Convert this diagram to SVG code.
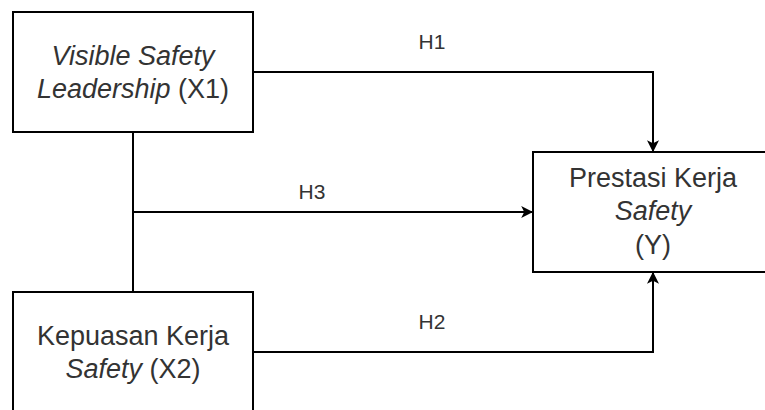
<svg xmlns="http://www.w3.org/2000/svg" width="765" height="410" viewBox="0 0 765 410">
<defs>
<style>
.box{fill:#ffffff;stroke:#000000;stroke-width:2}
.t{font-family:"Liberation Sans",Arial,Helvetica,sans-serif;font-size:27px;fill:#333333;text-anchor:middle}
.lbl{font-family:"Liberation Sans",Arial,Helvetica,sans-serif;font-size:21px;fill:#333333;text-anchor:middle}
.c{fill:none;stroke:#000000;stroke-width:2}
</style>
<marker id="ah" viewBox="0 0 10 10" refX="9" refY="5" markerWidth="12" markerHeight="12" markerUnits="userSpaceOnUse" orient="auto">
<path d="M0,0 L10,5 L0,10 L2.5,5 Z" fill="#000000"/>
</marker>
</defs>
<rect width="765" height="410" fill="#ffffff"/>
<g id="connectors">
<path class="c" d="M253,72 H653 V151" marker-end="url(#ah)"/>
<path class="c" d="M133,132 V292"/>
<path class="c" d="M133,212 H532" marker-end="url(#ah)"/>
<path class="c" d="M253,352 H653 V273" marker-end="url(#ah)"/>
<text class="lbl" x="432" y="49">H1</text>
<text class="lbl" x="312" y="199">H3</text>
<text class="lbl" x="432" y="329">H2</text>
</g>
<g id="x1">
<rect class="box" x="13" y="12" width="240" height="120"/>
<text class="t" x="133" y="65"><tspan font-style="italic">Visible Safety</tspan></text>
<text class="t" x="133" y="98"><tspan font-style="italic">Leadership</tspan> (X1)</text>
</g>
<g id="x2">
<rect class="box" x="13" y="292" width="240" height="130"/>
<text class="t" x="133" y="345">Kepuasan Kerja</text>
<text class="t" x="133" y="378"><tspan font-style="italic">Safety</tspan> (X2)</text>
</g>
<g id="y">
<rect class="box" x="533" y="152" width="250" height="120"/>
<text class="t" x="653" y="187">Prestasi Kerja</text>
<text class="t" x="653" y="220" font-style="italic">Safety</text>
<text class="t" x="653" y="254">(Y)</text>
</g>
</svg>
